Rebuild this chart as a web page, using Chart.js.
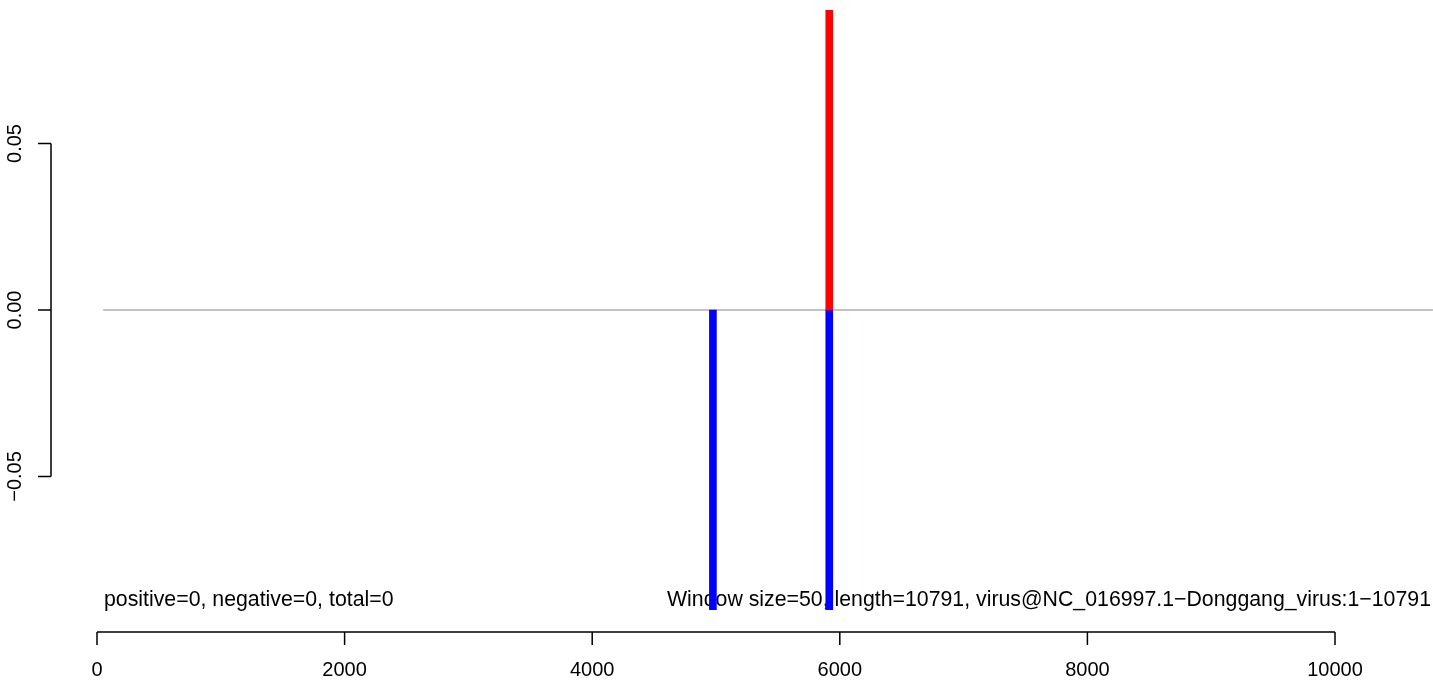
<!DOCTYPE html>
<html>
<head>
<meta charset="utf-8">
<script src="https://cdn.jsdelivr.net/npm/chart.js@4"></script>
<style>
  html, body { margin: 0; padding: 0; background: #ffffff; }
  #wrap { width: 1433px; height: 680px; }
</style>
</head>
<body>
<div id="wrap"><canvas id="c" width="1433" height="680"></canvas></div>
<script>
// ---- data ----
const positiveX = [5915];
const positiveY = [0.09];
const negativeX = [4975, 5915];
const negativeY = [-0.09, -0.09];
const baselineX = [50, 10791];
const baselineY = [0, 0];
const xTicks = [0, 2000, 4000, 6000, 8000, 10000];
const xTickLabels = ['0', '2000', '4000', '6000', '8000', '10000'];
const yTicks = [-0.05, 0, 0.05];
const yTickLabels = ['\u22120.05', '0.00', '0.05'];
const leftNote = 'positive=0, negative=0, total=0';
const rightNote = 'Window size=50, length=10791, virus@NC_016997.1\u2212Donggang_virus:1\u221210791';

const FONT = '20px "Liberation Sans", Arial, Helvetica, sans-serif';
const NOTE_FONT = '21.3px "Liberation Sans", Arial, Helvetica, sans-serif';

const notesPlugin = {
  id: 'notes',
  beforeDatasetsDraw(chart) {
    const ctx = chart.ctx;
    ctx.save();
    ctx.fillStyle = '#000';
    ctx.font = NOTE_FONT;
    ctx.textBaseline = 'alphabetic';
    ctx.textAlign = 'left';
    ctx.fillText(leftNote, 104, 606);
    ctx.textAlign = 'right';
    ctx.fillText(rightNote, 1431, 606);
    ctx.restore();
  }
};

const axesPlugin = {
  id: 'rAxes',
  afterDraw(chart) {
    const ctx = chart.ctx;
    const xs = chart.scales.x, ys = chart.scales.y;
    const area = chart.chartArea;
    ctx.save();
    ctx.strokeStyle = '#000';
    ctx.lineWidth = 1.5;
    ctx.fillStyle = '#000';
    ctx.font = FONT;
    // x axis
    const ay = area.bottom;
    const x0 = xs.getPixelForValue(xTicks[0]);
    const x1 = xs.getPixelForValue(xTicks[xTicks.length - 1]);
    ctx.beginPath();
    ctx.moveTo(x0, ay); ctx.lineTo(x1, ay);
    xTicks.forEach(v => {
      const px = xs.getPixelForValue(v);
      ctx.moveTo(px, ay); ctx.lineTo(px, ay + 13);
    });
    ctx.stroke();
    ctx.textAlign = 'center';
    ctx.textBaseline = 'middle';
    xTicks.forEach((v, i) => {
      ctx.fillText(xTickLabels[i], xs.getPixelForValue(v), 670);
    });
    // y axis
    const ax = area.left;
    const y0 = ys.getPixelForValue(yTicks[0]);
    const y1 = ys.getPixelForValue(yTicks[yTicks.length - 1]);
    ctx.beginPath();
    ctx.moveTo(ax, y0); ctx.lineTo(ax, y1);
    yTicks.forEach(v => {
      const py = ys.getPixelForValue(v);
      ctx.moveTo(ax, py); ctx.lineTo(ax - 13, py);
    });
    ctx.stroke();
    yTicks.forEach((v, i) => {
      const py = ys.getPixelForValue(v);
      ctx.save();
      ctx.translate(15, py);
      ctx.rotate(-Math.PI / 2);
      ctx.textAlign = 'center';
      ctx.textBaseline = 'middle';
      ctx.fillText(yTickLabels[i], 0, 0);
      ctx.restore();
    });
    ctx.restore();
  }
};

const pts = (xa, ya) => xa.map((x, i) => ({ x: x, y: ya[i] }));

new Chart(document.getElementById('c'), {
  type: 'bar',
  data: {
    datasets: [
      {
        type: 'line',
        data: pts(baselineX, baselineY),
        borderColor: '#858585',
        borderWidth: 1.2,
        pointRadius: 0,
        fill: false,
        order: 3
      },
      {
        data: pts(positiveX, positiveY),
        backgroundColor: '#ff0000',
        borderWidth: 0,
        barThickness: 7,
        grouped: false,
        order: 1
      },
      {
        data: pts(negativeX, negativeY),
        backgroundColor: '#0000ff',
        borderWidth: 0,
        barThickness: 7,
        grouped: false,
        order: 1
      }
    ]
  },
  options: {
    responsive: false,
    devicePixelRatio: 1,
    animation: false,
    layout: { padding: { left: 51, right: 0, top: 0, bottom: 48 } },
    plugins: { legend: { display: false }, tooltip: { enabled: false } },
    scales: {
      x: { type: 'linear', display: false, offset: false, min: -371.6, max: 10791.6 },
      y: { type: 'linear', display: false, min: -0.0967, max: 0.09309 }
    }
  },
  plugins: [notesPlugin, axesPlugin]
});
</script>
</body>
</html>
